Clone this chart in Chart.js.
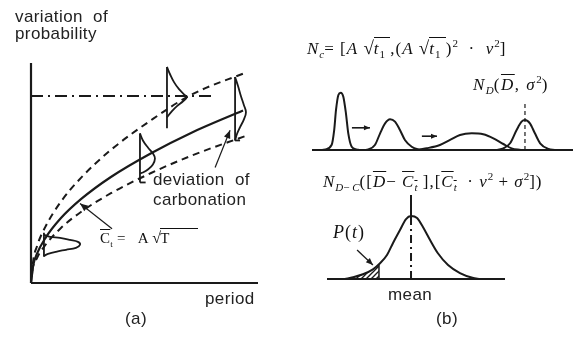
<!DOCTYPE html>
<html><head><meta charset="utf-8">
<script src="https://cdn.jsdelivr.net/npm/chart.js@4.4.0/dist/chart.umd.min.js"></script>
<style>
html,body{margin:0;padding:0;background:#fff;}
#wrap{position:relative;width:577px;height:341px;overflow:hidden;background:#fff;}
canvas{position:absolute;}
.t{position:absolute;white-space:nowrap;font-family:"Liberation Sans",Arial,sans-serif;font-size:17px;line-height:17px;color:#222;letter-spacing:0.4px;}
.m{position:absolute;white-space:nowrap;font-family:"Liberation Serif","Times New Roman",serif;font-size:17px;line-height:17px;color:#111;letter-spacing:1px;}
.m sub,.m sup{font-size:11px;line-height:0;position:relative;vertical-align:baseline;letter-spacing:0;}
.m sub{top:4px;} .m sup{top:-7px;}
.ov{text-decoration:overline;}
.rad{border-top:1px solid #111;padding-top:1px;margin-left:-1px;}
.sq{font-size:19px;}
</style></head>
<body><div id="wrap">
<canvas id="ca" width="290" height="341" style="left:0;top:0"></canvas>
<canvas id="cb1" width="287" height="170" style="left:290px;top:0"></canvas>
<canvas id="cb2" width="287" height="171" style="left:290px;top:170px"></canvas>

<div class="t" style="left:15px;top:8px">variation&nbsp; of</div>
<div class="t" style="left:15px;top:25px">probability</div>
<div class="t" style="left:153px;top:171px">deviation&nbsp; of</div>
<div class="t" style="left:153px;top:191px">carbonation</div>
<div class="t" style="left:205px;top:290px">period</div>
<div class="t" style="left:125px;top:310px">(a)</div>
<div class="t" style="left:436px;top:310px">(b)</div>
<div class="t" style="left:388px;top:286px">mean</div>

<div class="m" style="left:100px;top:229px;font-size:15px;letter-spacing:0.3px"><span class="ov">C</span><sub style="font-size:9px">t</sub>&nbsp;= &nbsp;&nbsp;A <span class="sq" style="font-size:16px">√</span><span class="rad">T&nbsp;&nbsp;&nbsp;&nbsp;&nbsp;&nbsp;&nbsp;</span></div>
<div class="m" style="left:307px;top:39px"><i>N</i><sub><i>c</i></sub>= [<i>A</i> <span class="sq">√</span><span class="rad"><i>t</i><sub>1</sub>&nbsp;</span>,(<i>A</i> <span class="sq">√</span><span class="rad"><i>t</i><sub>1</sub>&nbsp;</span>)<sup>2</sup> &nbsp;· &nbsp;<i>v</i><sup>2</sup>]</div>
<div class="m" style="left:473px;top:76px;letter-spacing:1.5px"><i>N</i><sub><i>D</i></sub>(<span class="ov"><i>D</i></span>, <i>σ</i><sup>2</sup>)</div>
<div class="m" style="left:323px;top:173px"><i>N</i><sub><i>D</i>− <i>C</i></sub>([<span class="ov"><i>D</i></span>− <span class="ov"><i>C</i><sub><i>t</i></sub></span>&nbsp;],[<span class="ov"><i>C</i><sub><i>t</i></sub></span>&nbsp; · <i>v</i><sup>2</sup> + <i>σ</i><sup>2</sup>])</div>
<div class="m" style="left:333px;top:224px;font-size:18px"><i>P</i>(<i>t</i>)</div>
</div>
<script>
// ---------- Panel (a): period (0-100) vs carbonation depth (0-100) ----------
const meanX  = [0, 0.9, 2.6, 6.2, 13.2, 22.0, 35.2, 52.9, 70.5, 93.4];
const meanY  = [0, 7.6, 13.2, 20.2, 29.5, 38.1, 48.2, 59.0, 68.2, 78.4];
const upperX = [0.4, 0.9, 2.6, 6.2, 13.2, 22.0, 35.2, 52.9, 70.5, 95.2];
const upperY = [3.0, 9.5, 16.6, 25.3, 37.0, 47.8, 60.5, 74.0, 85.5, 95.9];
const lowerX = [0, 0.4, 2.6, 6.2, 13.2, 22.0, 35.2, 52.9, 70.5, 95.2];
const lowerY = [0, 4.6, 11.2, 17.1, 25.0, 32.3, 40.8, 50.0, 57.8, 67.1];
const limitX = [0, 80.2];
const limitY = [85, 85];
const axisXx = [0, 100], axisXy = [0, 0];
const axisYx = [0, 0],   axisYy = [0, 100];
// distribution 1 (early)
const d1BaseX = [5.7, 5.7], d1BaseY = [22.8, 11.9];
const d1X = [5.7, 8.4, 12.8, 17.2, 20.7, 21.6, 19.8, 15.4, 11.0, 7.5, 5.7];
const d1Y = [21.9, 21.0, 20.5, 19.6, 18.7, 17.4, 16.0, 15.1, 14.2, 13.2, 12.3];
// distribution 2
const d2BaseX = [48.0, 48.0], d2BaseY = [68.0, 45.7];
const d2FootX = [48.0, 50.5], d2FootY = [45.7, 45.7];
const d2X = [48.0, 49.3, 51.5, 53.7, 54.6, 53.7, 51.5, 49.3, 48.0];
const d2Y = [68.0, 64.8, 61.6, 58.9, 56.6, 53.9, 51.6, 50.2, 49.8];
// distribution 3 (limit)
const d3BaseX = [59.9, 59.9], d3BaseY = [98.2, 70.3];
const d3X = [59.9, 61.2, 63.0, 65.2, 67.8, 68.7, 67.0, 64.3, 62.1, 59.9];
const d3Y = [98.2, 95.0, 91.3, 88.1, 85.4, 84.5, 82.6, 80.4, 78.1, 75.3];
// distribution 4 (late)
const d4BaseX = [89.9, 89.9], d4BaseY = [93.6, 64.8];
const d4FootX = [89.9, 92.1], d4FootY = [64.8, 64.8];
const d4X = [89.9, 91.2, 92.5, 93.8, 94.7, 93.8, 92.1, 90.7, 89.9];
const d4Y = [93.6, 89.5, 84.9, 80.8, 77.6, 74.4, 70.8, 67.6, 64.8];
// pointers
const ctArrX = [35.7, 21.6], ctArrY = [24.7, 36.1];
const devArrX = [81.1, 87.7], devArrY = [52.5, 69.4];

// ---------- Panel (b) top: depth (0-100) vs density (0-1) ----------
const bBaseX = [0, 100], bBaseY = [0, 0];
const p1X = [4.0, 5.0, 7.5, 8.5, 9.2, 10.1, 11.0, 12.0, 13.0, 13.9, 15.2, 17.1, 18.0];
const p1Y = [0, 0.01, 0.083, 0.333, 0.667, 0.917, 0.955, 0.888, 0.612, 0.278, 0.055, 0.01, 0];
const p2X = [20.0, 21.6, 24.1, 26.1, 28.0, 29.9, 31.8, 33.7, 35.6, 38.2, 40.7, 42.0];
const p2Y = [0, 0.01, 0.083, 0.278, 0.444, 0.512, 0.472, 0.333, 0.167, 0.055, 0.01, 0];
const p3X = [40.0, 43.9, 49.0, 52.9, 56.7, 61.2, 65.6, 69.5, 73.3, 76.5, 80.0];
const p3Y = [0, 0.028, 0.083, 0.167, 0.25, 0.278, 0.262, 0.195, 0.1, 0.028, 0];
const p4X = [71.0, 73.3, 75.9, 78.4, 80.3, 81.6, 83.5, 85.4, 87.4, 90.6, 93.0];
const p4Y = [0, 0.028, 0.112, 0.333, 0.472, 0.5, 0.445, 0.278, 0.112, 0.017, 0];
const p4MeanX = [81.6, 81.6], p4MeanY = [0, 0.78];
const arr1X = [15.3, 22.2], arr1Y = [0.37, 0.37];
const arr2X = [42.1, 47.9], arr2Y = [0.23, 0.23];

// ---------- Panel (b) bottom: D - C (0-100) vs density (0-1) ----------
const cBaseX = [0, 100], cBaseY = [0, 0];
const bellX = [10.1, 14.6, 20.2, 25.8, 29.8, 33.7, 37.1, 41.0, 44.4, 47.2, 50.6, 53.9, 57.9, 62.2, 68.0, 74.7, 81.7, 86.0];
const bellY = [0, 0.02, 0.056, 0.115, 0.187, 0.286, 0.429, 0.583, 0.714, 0.75, 0.726, 0.619, 0.464, 0.31, 0.167, 0.071, 0.015, 0];
const hatchX = [10.1, 14.6, 20.2, 25.8, 29.2];
const hatchY = [0, 0.02, 0.056, 0.115, 0.17];
const hatchEdgeX = [29.2, 29.2], hatchEdgeY = [0, 0.17];
const meanTopX = [47.2, 47.2], meanTopY = [0.75, 1.0];
const meanLowX = [47.2, 47.2], meanLowY = [0, 0.75];
const ptArrX = [16.9, 25.8], ptArrY = [0.345, 0.167];

const INK = '#1a1a1a';

function line(xs, ys, opts) {
  return Object.assign({
    data: xs.map((x, i) => ({x: x, y: ys[i]})),
    showLine: true, pointRadius: 0, borderColor: INK, backgroundColor: INK,
    borderWidth: 1.8, fill: false, tension: 0, clip: false
  }, opts || {});
}

const arrowPlugin = {
  id: 'arrowheads',
  afterDatasetsDraw(chart) {
    const ctx = chart.ctx;
    chart.data.datasets.forEach((ds, i) => {
      if (!ds.arrow) return;
      const pts = chart.getDatasetMeta(i).data;
      const a = pts[pts.length - 2], b = pts[pts.length - 1];
      const ang = Math.atan2(b.y - a.y, b.x - a.x);
      const L = ds.arrow, W = L * 0.42;
      const bx = b.x - L * Math.cos(ang), by = b.y - L * Math.sin(ang);
      ctx.save();
      ctx.fillStyle = INK;
      ctx.beginPath();
      ctx.moveTo(b.x, b.y);
      ctx.lineTo(bx + W * Math.sin(ang), by - W * Math.cos(ang));
      ctx.lineTo(bx - W * Math.sin(ang), by + W * Math.cos(ang));
      ctx.closePath();
      ctx.fill();
      ctx.restore();
    });
  }
};

function makeChart(id, datasets, pad, xr, yr) {
  return new Chart(document.getElementById(id), {
    type: 'scatter',
    data: {datasets: datasets},
    options: {
      responsive: false, animation: false, devicePixelRatio: 1,
      layout: {padding: pad},
      events: [],
      plugins: {legend: {display: false}, tooltip: {enabled: false}},
      scales: {
        x: {type: 'linear', display: false, min: xr[0], max: xr[1]},
        y: {type: 'linear', display: false, min: yr[0], max: yr[1]}
      }
    },
    plugins: [arrowPlugin]
  });
}

// hatch pattern
const pc = document.createElement('canvas');
pc.width = 5; pc.height = 5;
const pctx = pc.getContext('2d');
pctx.strokeStyle = INK; pctx.lineWidth = 1.3;
pctx.beginPath(); pctx.moveTo(0, 5); pctx.lineTo(5, 0); pctx.stroke();
pctx.beginPath(); pctx.moveTo(-1, 1); pctx.lineTo(1, -1); pctx.stroke();
pctx.beginPath(); pctx.moveTo(4, 6); pctx.lineTo(6, 4); pctx.stroke();
const hatch = pctx.createPattern(pc, 'repeat');

makeChart('ca', [
  line(axisXx, axisXy, {borderWidth: 2.2}),
  line(axisYx, axisYy, {borderWidth: 2.2}),
  line(limitX, limitY, {borderWidth: 1.8, borderDash: [12, 5, 2, 5]}),
  line(upperX, upperY, {borderWidth: 2, borderDash: [7, 5], cubicInterpolationMode: 'monotone'}),
  line(lowerX, lowerY, {borderWidth: 2, borderDash: [7, 5], cubicInterpolationMode: 'monotone'}),
  line(meanX, meanY, {borderWidth: 2.2, cubicInterpolationMode: 'monotone'}),
  line(d1BaseX, d1BaseY),
  line(d1X, d1Y, {tension: 0.4}),
  line(d2BaseX, d2BaseY),
  line(d2FootX, d2FootY),
  line(d2X, d2Y, {tension: 0.4}),
  line(d3BaseX, d3BaseY),
  line(d3X, d3Y, {tension: 0.4}),
  line(d4BaseX, d4BaseY),
  line(d4FootX, d4FootY),
  line(d4X, d4Y, {tension: 0.4}),
  line(ctArrX, ctArrY, {borderWidth: 1.2, arrow: 8}),
  line(devArrX, devArrY, {borderWidth: 1.2, arrow: 8})
], {left: 31, right: 32, top: 63, bottom: 58}, [0, 100], [0, 100]);

makeChart('cb1', [
  line(bBaseX, bBaseY, {borderWidth: 2}),
  line(p1X, p1Y, {borderWidth: 2, cubicInterpolationMode: 'monotone'}),
  line(p2X, p2Y, {borderWidth: 2, cubicInterpolationMode: 'monotone'}),
  line(p3X, p3Y, {borderWidth: 2, cubicInterpolationMode: 'monotone'}),
  line(p4X, p4Y, {borderWidth: 2, cubicInterpolationMode: 'monotone'}),
  line(p4MeanX, p4MeanY, {borderWidth: 1.2, borderDash: [4, 3]}),
  line(arr1X, arr1Y, {borderWidth: 1.6, arrow: 6}),
  line(arr2X, arr2Y, {borderWidth: 1.6, arrow: 6})
], {left: 22, right: 4, top: 90, bottom: 20}, [0, 100], [0, 1]);

makeChart('cb2', [
  line(hatchX, hatchY, {borderWidth: 0, fill: 'origin', backgroundColor: hatch, cubicInterpolationMode: 'monotone'}),
  line(cBaseX, cBaseY, {borderWidth: 2}),
  line(bellX, bellY, {borderWidth: 2, cubicInterpolationMode: 'monotone'}),
  line(hatchEdgeX, hatchEdgeY, {borderWidth: 1.5}),
  line(meanTopX, meanTopY, {borderWidth: 2}),
  line(meanLowX, meanLowY, {borderWidth: 2, borderDash: [8, 4, 2, 4]}),
  line(ptArrX, ptArrY, {borderWidth: 1.3, arrow: 7})
], {left: 37, right: 72, top: 25, bottom: 62}, [0, 100], [0, 1]);
</script>
</body></html>
